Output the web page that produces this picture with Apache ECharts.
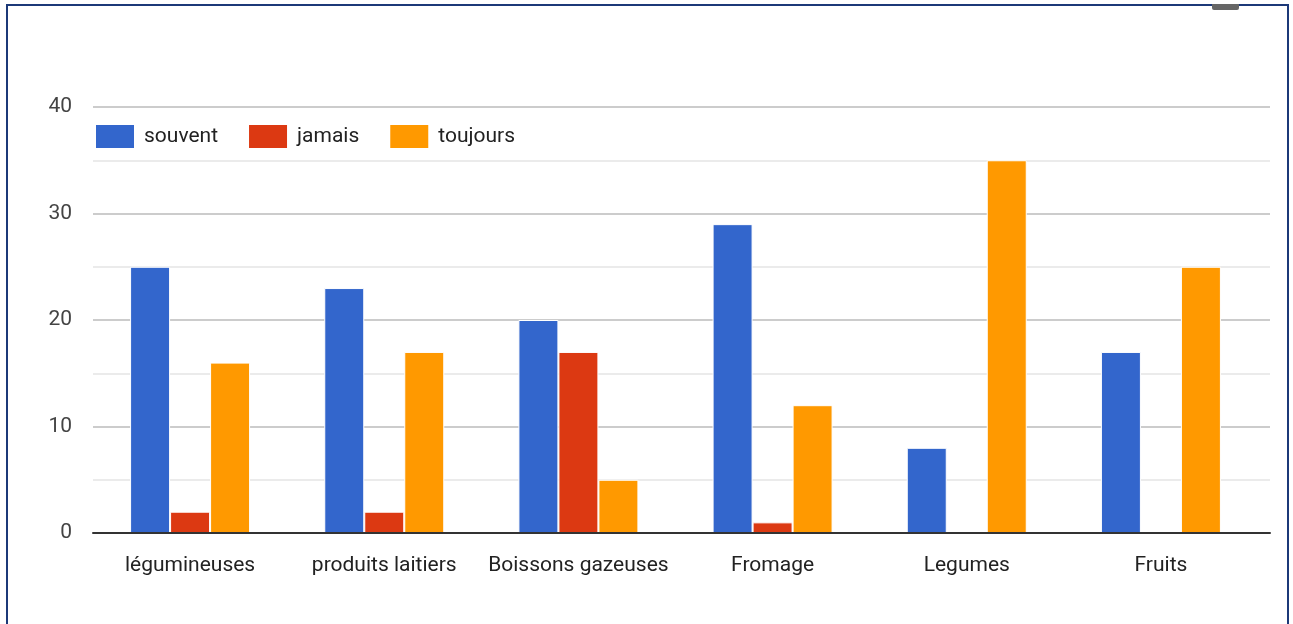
<!DOCTYPE html>
<html>
<head>
<meta charset="utf-8">
<script src="https://cdn.jsdelivr.net/npm/echarts@6/dist/echarts.min.js"></script>
<style>
html,body{margin:0;padding:0;background:#fff;}
#frame{position:absolute;left:6px;top:4px;width:1283px;height:640px;border:2px solid #1c3978;box-sizing:border-box;}
#tab{position:absolute;left:1212px;top:4px;width:27px;height:6px;background:#666;border-radius:0 0 2px 2px;}
#chart{position:absolute;left:0;top:0;width:1293px;height:624px;}
</style>
</head>
<body>
<div id="chart"></div>
<div id="frame"></div>
<div id="tab"></div>
<script>
const categories = ['légumineuses', 'produits laitiers', 'Boissons gazeuses', 'Fromage', 'Legumes', 'Fruits'];
const souvent = [25, 23, 20, 29, 8, 17];
const jamais = [2, 2, 17, 1, 0, 0];
const toujours = [16, 17, 5, 12, 35, 25];
const yTicks = [0, 10, 20, 30, 40];

const font = 'Roboto';
const chart = echarts.init(document.getElementById('chart'));
const mk = (name, data, color) => ({
  name, type: 'bar', data, barWidth: 40, barGap: '0%',
  xAxisIndex: 1, yAxisIndex: 1,
  itemStyle: { color, borderColor: '#fff', borderWidth: 1 },
  emphasis: { disabled: true }
});
chart.setOption({
  animation: false,
  color: ['#3366cc', '#dc3912', '#ff9900'],
  legend: {
    left: 94, top: 123, itemWidth: 40, itemHeight: 25, itemGap: 29, padding: 0,
    icon: 'rect',
    textStyle: { fontFamily: font, fontSize: 21, color: '#222', padding: [0, 0, 0, 4] },
    data: ['souvent', 'jamais', 'toujours']
  },
  grid: [
    { left: 93, right: 23, top: 107, bottom: 91, containLabel: false },
    { left: 93, right: 35, top: 107, bottom: 91, containLabel: false }
  ],
  xAxis: [
    {
      type: 'category', gridIndex: 0, data: categories,
      axisLine: { lineStyle: { color: '#333', width: 2 } },
      axisTick: { show: false }, axisLabel: { show: false }, z: 10
    },
    {
      type: 'category', gridIndex: 1, data: categories,
      axisLine: { show: false },
      axisTick: { show: false },
      axisLabel: { interval: 0, fontFamily: font, fontSize: 21, color: '#222', margin: 22 }
    }
  ],
  yAxis: [
    {
      type: 'value', gridIndex: 0, min: yTicks[0], max: yTicks[yTicks.length - 1], interval: 10,
      axisLine: { show: false }, axisTick: { show: false },
      axisLabel: { fontFamily: font, fontSize: 21, color: '#444', margin: 21 },
      splitLine: { lineStyle: { color: '#cccccc', width: 2 } },
      minorTick: { show: false, splitNumber: 2 },
      minorSplitLine: { show: true, lineStyle: { color: '#ebebeb', width: 2 } }
    },
    {
      type: 'value', gridIndex: 1, min: yTicks[0], max: yTicks[yTicks.length - 1], interval: 10,
      show: false
    }
  ],
  series: [mk('souvent', souvent, '#3366cc'), mk('jamais', jamais, '#dc3912'), mk('toujours', toujours, '#ff9900')]
});
</script>
</body>
</html>
